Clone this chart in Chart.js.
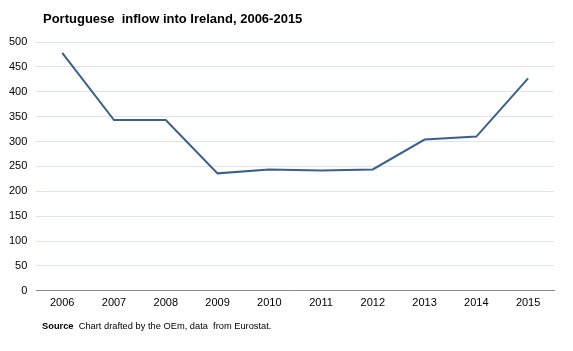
<!DOCTYPE html>
<html>
<head>
<meta charset="utf-8">
<script src="https://cdn.jsdelivr.net/npm/chart.js@4/dist/chart.umd.min.js"></script>
<style>
    html, body { margin: 0; padding: 0; background: #fff; }
    #wrap { position: relative; width: 573px; height: 351px; font-family: "Liberation Sans", Arial, sans-serif; }
    #title { position: absolute; left: 43px; top: 11px; font-size: 13px; font-weight: bold; color: #000; }
    #source { position: absolute; left: 42px; top: 321px; font-size: 9.3px; color: #000; }
    canvas { position: absolute; left: 0; top: 0; }
</style>
</head>
<body>
<div id="wrap">
    <canvas id="inflowChart" width="573" height="351"></canvas>
    <div id="title">Portuguese&nbsp; inflow into Ireland, 2006-2015</div>
    <div id="source"><b>Source</b>&nbsp; Chart drafted by the OEm, data&nbsp; from Eurostat.</div>
</div>
<script>
    'use strict';

    let years = ['2006', '2007', '2008', '2009', '2010', '2011', '2012', '2013', '2014', '2015'];
    let inflow = [478, 343, 343, 236, 244, 242, 244, 304, 310, 427];
    let yTicks = [0, 50, 100, 150, 200, 250, 300, 350, 400, 450, 500];

    let ctx = document.getElementById('inflowChart').getContext('2d');

    let inflowChart = new Chart(ctx, {
        type: 'line',
        data: {
            labels: years,
            datasets: [
                {
                    label: 'Portuguese inflow into Ireland',
                    data: inflow,
                    borderColor: '#3b5f8f',
                    borderWidth: 2,
                    pointRadius: 0,
                    tension: 0,
                    fill: false
                }
            ]
        },
        options: {
            responsive: false,
            animation: false,
            layout: {
                padding: { left: 0, right: 19, top: 42, bottom: 35 }
            },
            plugins: {
                legend: { display: false },
                tooltip: { enabled: false }
            },
            scales: {
                x: {
                    offset: true,
                    grid: { display: false, offset: true, drawTicks: false },
                    border: { display: true, color: '#888888', width: 1 },
                    ticks: {
                        color: '#000',
                        font: { family: '"Liberation Sans", Arial', size: 11 },
                        padding: 6,
                        maxRotation: 0
                    }
                },
                y: {
                    min: 0,
                    max: 500,
                    afterBuildTicks: function (axis) {
                        axis.ticks = yTicks.map(v => ({ value: v }));
                    },
                    grid: { color: '#dce5ee', lineWidth: 1, drawTicks: false },
                    border: { display: false },
                    ticks: {
                        color: '#000',
                        font: { family: '"Liberation Sans", Arial', size: 11 },
                        padding: 9
                    }
                }
            }
        }
    });
</script>
</body>
</html>
